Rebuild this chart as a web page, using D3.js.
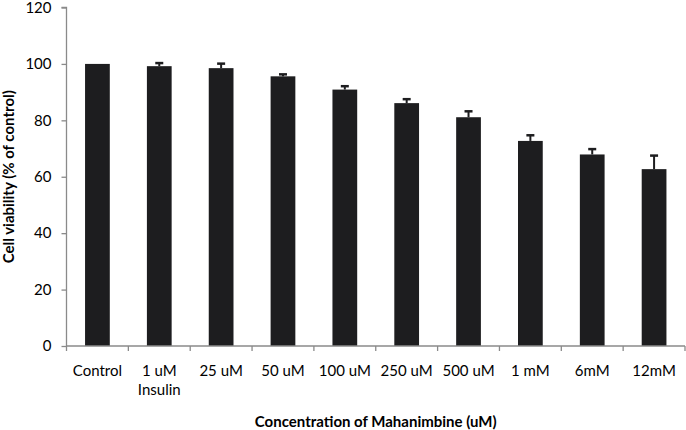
<!DOCTYPE html>
<html>
<head>
<meta charset="utf-8">
<script src="https://cdn.jsdelivr.net/npm/d3@7"></script>
<style>
  html, body { margin: 0; padding: 0; background: #fff; }
  svg { display: block; }
  text { font-family: Lato, "Open Sans", sans-serif; fill: #000; }
</style>
</head>
<body>
<script>
const categories = ["Control", "1 uM|Insulin", "25 uM", "50 uM", "100 uM", "250 uM", "500 uM", "1 mM", "6mM", "12mM"];
const values = [100, 99.2, 98.5, 95.6, 90.9, 86.1, 81.1, 72.7, 67.9, 62.7];
const errors = [0, 1.1, 1.6, 0.7, 1.2, 1.4, 2.1, 2.0, 1.9, 4.8];
const yTicks = [0, 20, 40, 60, 80, 100, 120];
const xTitle = "Concentration of Mahanimbine (uM)";
const yTitle = "Cell viability (% of control)";

const W = 686, H = 430;
const x0 = 66.5, x1 = 685, yBottom = 346, yTop = 7.5;
const axisColor = "#8a8a8a";
const barColor = "#1d1d1f";

const svg = d3.select("body").append("svg").attr("width", W).attr("height", H);

const x = d3.scaleBand().domain(categories).range([x0, x1]).paddingInner(0.6).paddingOuter(0.3);
const y = d3.scaleLinear().domain([0, 120]).range([yBottom, yTop]);

// bars
svg.append("g").selectAll("rect").data(categories).join("rect")
  .attr("x", d => x(d))
  .attr("width", x.bandwidth())
  .attr("y", (d, i) => y(values[i]))
  .attr("height", (d, i) => y(0) - y(values[i]))
  .attr("fill", barColor);

// error bars (upper only)
const eb = svg.append("g").attr("stroke", barColor);
categories.forEach((c, i) => {
  if (!errors[i]) return;
  const cx = x(c) + x.bandwidth() / 2;
  eb.append("line").attr("x1", cx).attr("x2", cx)
    .attr("y1", y(values[i])).attr("y2", y(values[i] + errors[i])).attr("stroke-width", 2);
  eb.append("line").attr("x1", cx - 4).attr("x2", cx + 4)
    .attr("y1", y(values[i] + errors[i])).attr("y2", y(values[i] + errors[i])).attr("stroke-width", 2.5);
});

// y axis
const yAxis = svg.append("g").attr("transform", `translate(${x0},0)`)
  .call(d3.axisLeft(y).tickValues(yTicks).tickSize(5).tickPadding(10));
yAxis.select(".domain").attr("stroke", axisColor).attr("stroke-width", 1.3).attr("d", `M-5,${y(120)}H0V${y(0)}`);
yAxis.selectAll(".tick line").attr("stroke", axisColor).attr("stroke-width", 1.3);
yAxis.selectAll(".tick text").style("font-family", "Lato, sans-serif").style("font-size", "15px").attr("fill", "#000");

// x axis
const xa = svg.append("g");
xa.append("line").attr("x1", x0).attr("x2", x1).attr("y1", yBottom).attr("y2", yBottom)
  .attr("stroke", axisColor).attr("stroke-width", 1.3);
const step = x.step();
const bounds = d3.range(categories.length + 1).map(i => x0 + i * step);
xa.selectAll("line.tk").data(bounds).join("line").attr("class", "tk")
  .attr("x1", d => d).attr("x2", d => d).attr("y1", yBottom).attr("y2", yBottom + 5)
  .attr("stroke", axisColor).attr("stroke-width", 1.3);
categories.forEach(c => {
  const cx = x(c) + x.bandwidth() / 2;
  const t = xa.append("text").attr("x", cx).attr("y", yBottom + 30)
    .attr("text-anchor", "middle").style("font-size", "15px");
  c.split("|").forEach((line, j) => {
    t.append("tspan").attr("x", cx).attr("dy", j === 0 ? 0 : 19).text(line);
  });
});

// titles
svg.append("text").attr("x", (x0 + x1) / 2).attr("y", 427).attr("text-anchor", "middle")
  .style("font-size", "15px").style("font-weight", "bold").text(xTitle);
svg.append("text").attr("transform", `translate(14,${(yTop + yBottom) / 2}) rotate(-90)`)
  .attr("text-anchor", "middle").style("font-size", "15px").style("font-weight", "bold").text(yTitle);
</script>
</body>
</html>
